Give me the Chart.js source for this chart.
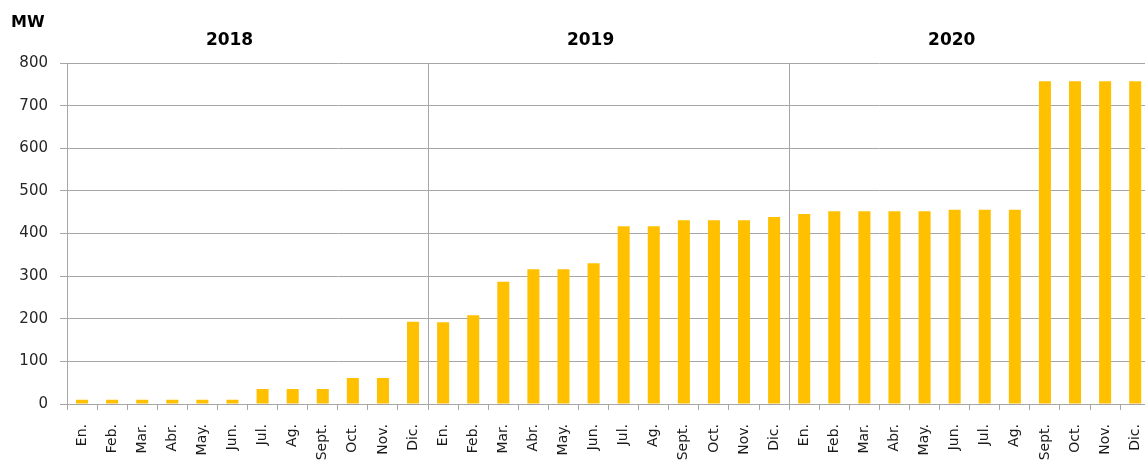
<!DOCTYPE html>
<html>
<head>
<meta charset="utf-8">
<script src="https://cdn.jsdelivr.net/npm/chart.js@4/dist/chart.umd.min.js"></script>
<style>
  html, body { margin: 0; padding: 0; background: #fff; overflow: hidden; }
  canvas { display: block; }
</style>
</head>
<body>
<canvas id="chart" width="1166" height="463"></canvas>
<script>
const months = ['En.', 'Feb.', 'Mar.', 'Abr.', 'May.', 'Jun.', 'Jul.', 'Ag.', 'Sept.', 'Oct.', 'Nov.', 'Dic.'];
const years = ['2018', '2019', '2020'];
const mw2018 = [10, 10, 10, 10, 10, 10, 35, 35, 35, 61, 61, 193];
const mw2019 = [192, 208, 287, 316, 316, 330, 417, 417, 431, 431, 431, 439];
const mw2020 = [446, 452, 452, 452, 452, 456, 456, 456, 757, 757, 757, 757];
const yTicks = [0, 100, 200, 300, 400, 500, 600, 700, 800];

const GRID = '#a6a6a6';
const BAR = '#ffc000';
const FONT = '"DejaVu Sans", Verdana, sans-serif';

const labels = years.flatMap(() => months);
const values = [...mw2018, ...mw2019, ...mw2020];

// unit caption + year headers over each group of 12 months
const headers = {
  id: 'headers',
  afterDraw(chart) {
    const { ctx, scales: { x } } = chart;
    ctx.save();
    ctx.fillStyle = '#000';
    ctx.textBaseline = 'middle';
    ctx.font = 'bold 16px ' + FONT;
    ctx.textAlign = 'left';
    ctx.fillText('MW', 11, 23);
    ctx.font = 'bold 17px ' + FONT;
    ctx.textAlign = 'center';
    years.forEach((yr, i) => {
      const mid = (x.getPixelForValue(i * 12) + x.getPixelForValue(i * 12 + 11)) / 2;
      ctx.fillText(yr, mid - 18, 41);
    });
    ctx.restore();
  }
};

new Chart(document.getElementById('chart'), {
  type: 'bar',
  data: {
    labels,
    datasets: [{
      label: 'MW',
      data: values,
      backgroundColor: BAR,
      borderWidth: 0,
      barPercentage: 0.4,
      categoryPercentage: 1
    }]
  },
  options: {
    responsive: false,
    animation: false,
    devicePixelRatio: 1,
    layout: { padding: { top: 63, right: 0, bottom: 0, left: 0 } },
    plugins: {
      legend: { display: false },
      tooltip: { enabled: false }
    },
    scales: {
      x: {
        afterFit: s => { s.height = 59; },
        border: { display: true, color: GRID, width: 1 },
        grid: {
          offset: true,
          drawOnChartArea: true,
          color: c => (c.index === 12 || c.index === 24) ? GRID : 'rgba(0,0,0,0)',
          tickColor: GRID,
          tickLength: 6,
          lineWidth: 1
        },
        ticks: {
          autoSkip: false,
          minRotation: 90,
          maxRotation: 90,
          padding: 14,
          color: '#1a1a1a',
          font: { family: FONT, size: 14 }
        }
      },
      y: {
        min: 0,
        max: 800,
        afterFit: s => { s.width = 67; },
        afterBuildTicks: s => { s.ticks = yTicks.map(v => ({ value: v })); },
        border: { display: true, color: GRID, width: 1 },
        grid: {
          color: GRID,
          tickColor: GRID,
          tickLength: 7,
          lineWidth: 1
        },
        ticks: {
          padding: 12,
          color: '#262626',
          font: { family: FONT, size: 15 }
        }
      }
    }
  },
  plugins: [headers]
});
</script>
</body>
</html>
